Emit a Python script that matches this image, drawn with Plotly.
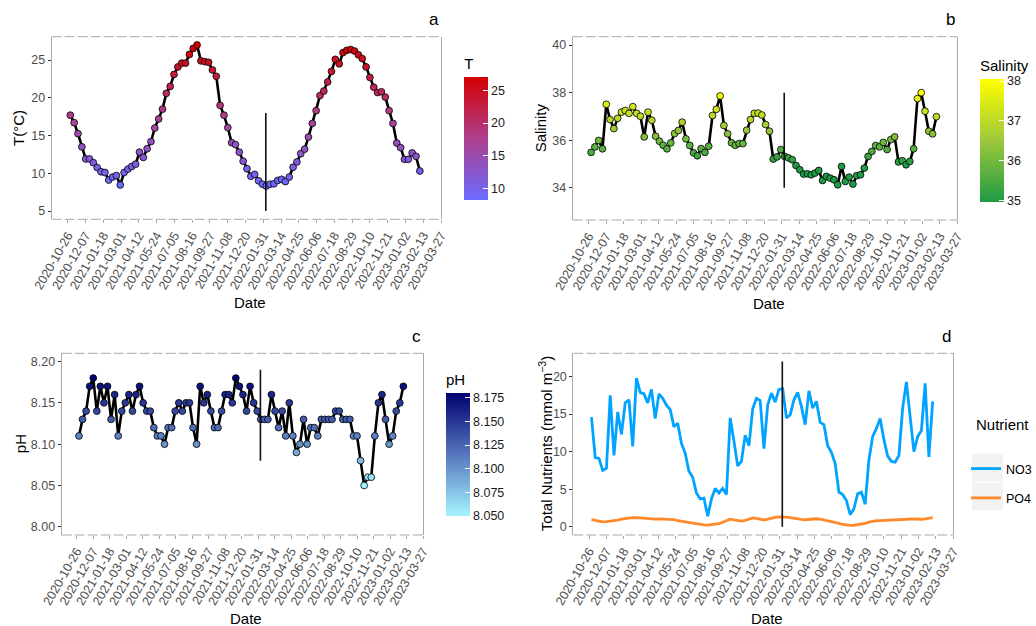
import plotly.graph_objects as go
import pandas as pd

# ---------------- data ----------------
dates = pd.date_range("2020-11-01", "2023-02-05", periods=92)

temperature = [17.7, 16.7, 15.25, 13.5, 11.9, 11.9, 11.4, 10.75, 10.2, 10.1,
               9.1, 9.5, 9.7, 8.45, 10.1, 10.55, 10.9, 11.2, 12.8, 12.1,
               13.25, 14.2, 16.0, 17.2, 18.5, 20.6, 21.5, 23.1, 24.1, 24.6,
               24.6, 25.75, 26.55, 27.0, 24.9, 24.8, 24.7, 23.7, 22.85, 19.0,
               17.7, 16.05, 14.05, 13.8, 12.8, 11.6, 10.6, 9.6, 9.85, 9.0,
               8.55, 8.3, 8.55, 8.6, 9.05, 9.2, 8.9, 9.5, 10.8, 11.5,
               12.6, 13.2, 14.8, 16.6, 18.3, 20.3, 20.9, 22.1, 23.5, 25.1,
               24.5, 26.0, 26.3, 26.4, 26.2, 25.7, 25.2, 24.1, 22.7, 21.4,
               20.7, 20.8, 20.1, 18.3, 16.6, 14.0, 13.4, 11.85, 11.85, 12.7,
               12.25, 10.3]

salinity = [35.49, 35.72, 35.99, 35.64, 37.51, 36.87, 36.49, 36.92, 37.18, 37.25,
            37.13, 37.41, 37.13, 37.01, 36.14, 37.18, 36.84, 36.17, 35.96, 35.79,
            35.64, 35.89, 36.28, 36.41, 36.76, 36.06, 35.78, 35.47, 35.35, 35.65,
            35.49, 35.75, 37.04, 37.30, 37.86, 36.62, 36.27, 35.89, 35.79, 35.86,
            35.86, 36.42, 36.87, 37.13, 37.14, 37.06, 36.66, 36.38, 35.21, 35.30,
            35.61, 35.32, 35.26, 35.18, 34.94, 34.76, 34.58, 34.59, 34.55, 34.62,
            34.73, 34.31, 34.48, 34.41, 34.34, 34.13, 34.90, 34.27, 34.45, 34.16,
            34.51, 34.55, 34.83, 35.32, 35.53, 35.78, 35.72, 35.91, 35.61, 36.03,
            36.14, 35.09, 35.14, 34.97, 35.11, 35.64, 37.75, 38.00, 37.22, 36.38,
            36.27, 36.99]

ph = [8.11, 8.13, 8.14, 8.17, 8.18, 8.14, 8.17, 8.15, 8.17, 8.13,
      8.16, 8.11, 8.14, 8.15, 8.16, 8.14, 8.16, 8.17, 8.15, 8.14,
      8.14, 8.12, 8.11, 8.11, 8.10, 8.12, 8.12, 8.14, 8.15, 8.14,
      8.15, 8.15, 8.12, 8.10, 8.17, 8.15, 8.16, 8.14, 8.12, 8.12,
      8.14, 8.16, 8.16, 8.15, 8.18, 8.17, 8.16, 8.14, 8.17, 8.15,
      8.14, 8.13, 8.13, 8.13, 8.16, 8.14, 8.12, 8.14, 8.11, 8.15,
      8.11, 8.09, 8.10, 8.13, 8.10, 8.12, 8.12, 8.11, 8.13, 8.13,
      8.13, 8.13, 8.14, 8.14, 8.13, 8.13, 8.13, 8.11, 8.11, 8.08,
      8.05, 8.06, 8.06, 8.11, 8.15, 8.16, 8.13, 8.10, 8.11, 8.14,
      8.15, 8.17]

no3 = [14.6, 9.2, 9.1, 7.5, 7.8, 17.5, 9.5, 15.3, 12.3, 16.5,
       16.9, 10.7, 19.8, 17.9, 17.7, 16.5, 18.3, 14.4, 17.7, 17.1,
       16.2, 15.6, 13.3, 13.8, 11.1, 9.8, 7.4, 6.6, 4.5, 3.7,
       3.8, 1.4, 3.7, 5.1, 4.5, 5.1, 4.3, 14.5, 11.4, 8.1,
       8.7, 12.2, 10.8, 15.7, 17.1, 16.8, 10.4, 16.2, 17.8, 16.6,
       18.3, 18.4, 14.5, 14.9, 16.9, 17.9, 16.0, 13.6, 18.1, 15.8,
       16.7, 13.9, 13.6, 10.8, 9.9, 8.4, 4.6, 4.3, 3.5, 1.6,
       2.4, 4.4, 4.6, 3.0, 8.9, 12.0, 13.1, 14.4, 11.6, 9.4,
       8.7, 8.6, 9.5, 15.8, 19.3, 14.5, 10.0, 12.0, 12.8, 19.1,
       9.3, 16.7]

po4 = [0.95, 0.85, 0.75, 0.65, 0.68, 0.72, 0.78, 0.88, 1.0, 1.1,
       1.15, 1.2, 1.22, 1.18, 1.1, 1.0, 1.0, 1.02, 1.05, 1.05,
       1.02, 1.0, 0.95, 0.8, 0.72, 0.62, 0.52, 0.42, 0.35, 0.3,
       0.25, 0.22, 0.25, 0.3, 0.4, 0.6, 0.85, 1.0, 0.9, 0.8,
       0.75, 0.85, 1.0, 1.18, 1.1, 1.0, 0.9, 1.0, 1.15, 1.25,
       1.3, 1.33, 1.28, 1.2, 1.1, 1.02, 0.97, 0.93, 0.98, 1.02,
       1.06, 1.0, 0.9, 0.82, 0.75, 0.6, 0.45, 0.3, 0.22, 0.18,
       0.2, 0.25, 0.3, 0.45, 0.62, 0.75, 0.8, 0.82, 0.84, 0.84,
       0.84, 0.84, 0.9, 0.95, 1.0, 1.06, 1.02, 0.97, 1.0, 1.05,
       1.12, 1.2]

nutrient_names = ["NO3", "PO4"]
nutrient_colors = ["#00A3FF", "#FF8A2B"]

tick_dates = ["2020-10-26", "2020-12-07", "2021-01-18", "2021-03-01", "2021-04-12",
              "2021-05-24", "2021-07-05", "2021-08-16", "2021-09-27", "2021-11-08",
              "2021-12-20", "2022-01-31", "2022-03-14", "2022-04-25", "2022-06-06",
              "2022-07-18", "2022-08-29", "2022-10-10", "2022-11-21", "2023-01-02",
              "2023-02-13", "2023-03-27"]
x_range = ["2020-09-18", "2023-03-27"]
vline_date = "2022-02-06"
vline_spans = {"a": [5, 18], "b": [34, 38], "c": [8.08, 8.19], "d": [0, 22]}
salinity_colour_limits = [34.97, 38.05]

# ---------------- layout helpers ----------------
W, H = 1036, 626
FONT = "Liberation Sans, Arial, sans-serif"
AX_GRAY = "#A8A8A8"
TXT_GRAY = "#4D4D4D"


def pxx(x):
    return x / W


def pyy(y):
    return 1 - y / H


panels = {
    "a": dict(x0=51.7, x1=441.0, y0=36.7, y1=219.3, ax="", yr=[3.9, 28.1], yt=[5, 10, 15, 20, 25], fmt=None),
    "b": dict(x0=572.7, x1=957.3, y0=36.7, y1=220.0, ax="2", yr=[32.65, 40.35], yt=[34, 36, 38, 40], fmt=None),
    "c": dict(x0=61.7, x1=423.0, y0=353.3, y1=535.0, ax="3", yr=[7.99, 8.21], yt=[8.00, 8.05, 8.10, 8.15, 8.20], fmt=".2f"),
    "d": dict(x0=573.3, x1=953.3, y0=353.3, y1=535.0, ax="4", yr=[-1.1, 23.1], yt=[0, 5, 10, 15, 20], fmt=None),
}

fig = go.Figure()

marker_common = dict(size=6.8, line=dict(color="black", width=0.8))

fig.add_trace(go.Scatter(x=dates, y=temperature, mode="lines+markers", xaxis="x", yaxis="y",
                         line=dict(color="black", width=2.6), showlegend=False,
                         marker=dict(color=temperature, coloraxis="coloraxis", **marker_common)))
fig.add_trace(go.Scatter(x=dates, y=salinity, mode="lines+markers", xaxis="x2", yaxis="y2",
                         line=dict(color="black", width=2.6), showlegend=False,
                         marker=dict(color=salinity, coloraxis="coloraxis2", **marker_common)))
fig.add_trace(go.Scatter(x=dates, y=ph, mode="lines+markers", xaxis="x3", yaxis="y3",
                         line=dict(color="black", width=2.6), showlegend=False,
                         marker=dict(color=ph, coloraxis="coloraxis3", **marker_common)))
for name, vals, col in zip(nutrient_names, [no3, po4], nutrient_colors):
    fig.add_trace(go.Scatter(x=dates, y=vals, mode="lines", xaxis="x4", yaxis="y4",
                             name=name, legendgroup=name,
                             line=dict(color=col, width=2.8), showlegend=True))

for key, p in panels.items():
    fig.add_trace(go.Scatter(x=[vline_date, vline_date], y=vline_spans[key], mode="lines",
                             xaxis="x" + p["ax"], yaxis="y" + p["ax"],
                             line=dict(color="#111111", width=1.6), showlegend=False, hoverinfo="skip"))

layout = dict(
    template="none",
    width=W, height=H, margin=dict(l=0, r=0, t=0, b=0, autoexpand=False),
    paper_bgcolor="white", plot_bgcolor="white",
    font=dict(family=FONT, color="black"),
    showlegend=True,
)

shapes = []
annotations = []
for key, p in panels.items():
    ax = p["ax"]
    layout["xaxis" + ax] = dict(
        domain=[pxx(p["x0"]), pxx(p["x1"])], anchor="y" + ax, type="date", range=x_range,
        tickmode="array", tickvals=tick_dates, ticktext=tick_dates, tickangle=-60,
        tickfont=dict(size=12.5, color=TXT_GRAY, family=FONT), ticks="outside", ticklen=3,
        tickcolor=AX_GRAY, showgrid=False, zeroline=False, showline=False, automargin=False,
    )
    ydict = dict(
        domain=[pyy(p["y1"]), pyy(p["y0"])], anchor="x" + ax, range=p["yr"],
        tickmode="array", tickvals=p["yt"],
        tickfont=dict(size=12.5, color=TXT_GRAY, family=FONT), ticks="outside", ticklen=3,
        tickcolor="#333333", showgrid=False, zeroline=False, showline=True, mirror=True,
        linecolor=AX_GRAY, linewidth=1, automargin=False,
    )
    if p["fmt"]:
        ydict["tickformat"] = p["fmt"]
    layout["yaxis" + ax] = ydict
    for yy in (p["y0"], p["y1"]):
        shapes.append(dict(type="line", xref="paper", yref="paper",
                           x0=pxx(p["x0"]), x1=pxx(p["x1"]), y0=pyy(yy), y1=pyy(yy),
                           line=dict(color=AX_GRAY, width=1, dash="10px,3px")))
    annotations.append(dict(text=key, xref="paper", yref="paper", x=pxx(p["x1"]),
                            y=pyy(p["y0"] - 17), xanchor="right", yanchor="middle",
                            showarrow=False, font=dict(size=17, family=FONT)))
    annotations.append(dict(text="Date", xref="paper", yref="paper",
                            x=pxx((p["x0"] + p["x1"]) / 2 + 4), y=pyy(p["y1"] + 83),
                            xanchor="center", yanchor="middle", showarrow=False,
                            font=dict(size=15, family=FONT)))

ytitles = {"a": ("T(°C)", 18), "b": ("Salinity", 540), "c": ("pH", 20),
           "d": ("Total Nutrients (mmol m<sup>−3</sup>)", 545)}
for key, (txt, xpos) in ytitles.items():
    p = panels[key]
    annotations.append(dict(text=txt, xref="paper", yref="paper", x=pxx(xpos),
                            y=pyy((p["y0"] + p["y1"]) / 2), xanchor="center", yanchor="middle",
                            textangle=-90, showarrow=False, font=dict(size=15, family=FONT)))

# legend title and key backgrounds (ggplot-style)
annotations.append(dict(text="Nutrient", xref="paper", yref="paper", x=pxx(974),
                        y=pyy(424), xanchor="left", yanchor="middle", showarrow=False,
                        font=dict(size=15, family=FONT)))
for yc in (467.5, 496.5):
    shapes.append(dict(type="rect", xref="paper", yref="paper", layer="below",
                       x0=pxx(972), x1=pxx(1003), y0=pyy(yc - 14), y1=pyy(yc + 14),
                       fillcolor="#F2F2F2", line=dict(width=0)))

layout["shapes"] = shapes
layout["annotations"] = annotations


def cbar(title, x, ytop, tickvals, fmt=None):
    d = dict(
        title=dict(text=title, side="top", font=dict(size=15, family=FONT)),
        x=pxx(x), xanchor="left", xref="paper", y=pyy(ytop), yanchor="top", yref="paper",
        lenmode="pixels", len=145, thicknessmode="pixels", thickness=24,
        outlinewidth=0, xpad=0, ypad=0,
        tickmode="array", tickvals=tickvals, ticks="inside", ticklen=5, tickcolor="white",
        tickfont=dict(size=12.5, color="#1A1A1A", family=FONT),
    )
    if fmt:
        d["tickformat"] = fmt
    return d


layout["coloraxis"] = dict(
    cmin=min(temperature), cmax=max(temperature),
    colorscale=[[0, "#6B6BFF"], [0.5, "#AE3F8E"], [1, "#D40000"]],
    colorbar=cbar("T", 464.3, 55, [10, 15, 20, 25]))
layout["coloraxis2"] = dict(
    cmin=salinity_colour_limits[0], cmax=salinity_colour_limits[1],
    colorscale=[[0, "#1F9A45"], [0.5, "#9DC83A"], [1, "#FFFF00"]],
    colorbar=cbar("Salinity", 980, 57, [35, 36, 37, 38]))
layout["coloraxis3"] = dict(
    cmin=min(ph), cmax=max(ph),
    colorscale=[[0, "#A4F4FF"], [0.5, "#5777BE"], [1, "#000070"]],
    colorbar=cbar("pH", 446, 371, [8.05, 8.075, 8.10, 8.125, 8.15, 8.175], ".3f"))

layout["legend"] = dict(
    x=pxx(966), xanchor="left", y=pyy(454), yanchor="top",
    font=dict(size=12.5, family=FONT), bgcolor="rgba(0,0,0,0)",
    itemwidth=30, tracegroupgap=10,
)

fig.update_layout(**layout)
fig.write_html("out.html")
